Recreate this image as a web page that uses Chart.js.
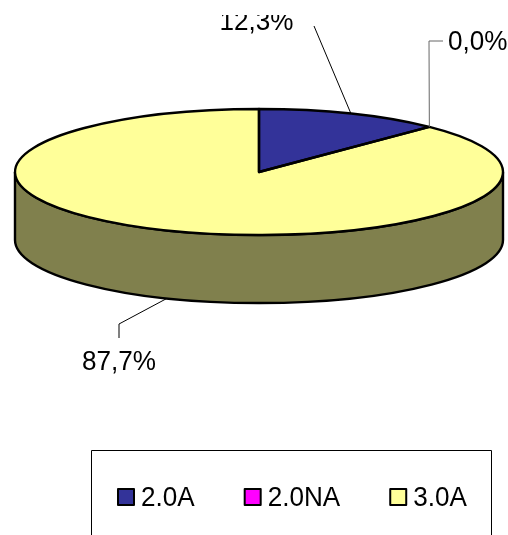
<!DOCTYPE html>
<html>
<head>
<meta charset="utf-8">
<style>
  html, body { margin: 0; padding: 0; background: #fff; overflow: hidden; }
  canvas { display: block; }
</style>
<script src="https://cdn.jsdelivr.net/npm/chart.js@4/dist/chart.umd.min.js"></script>
</head>
<body>
<canvas id="chart-pie" width="508" height="535"></canvas>
<script>
// Data
const categories = ['2.0A', '2.0NA', '3.0A'];
const seriesValues = [12.3, 0.0, 87.7];
const sliceColors = ['#333399', '#FF00FF', '#FFFF99'];
const wallColors = ['#1A1A4D', '#800080', '#80804D'];

// Pie projection
const CENTER_Y = 172;
const RADIUS_Y = 63;
const DEPTH = 68;
// La fuente del original es algo mas alta que ancha
const FONT = '27.2px "Liberation Sans", Arial, sans-serif';
const TEXT_SQUEEZE = 0.96;

const calloutStyles = [
    { textX: 219.5, textY: 30, elbow: [[314, 26]], color: '#000000', clipTop: 15 },
    { textX: 448, textY: 49.5, elbow: [[429, 41], [443, 41]], color: '#666666' },
    { textX: 82, textY: 369.5, elbow: [[119, 324], [119, 338]], color: '#000000' }
];

function formatPercent(v) {
    return v.toFixed(1).replace('.', ',') + '%';
}

function ellipsePath(ctx, arc, offsetY, from, to, ccw) {
    ctx.ellipse(arc.x, CENTER_Y + offsetY, arc.outerRadius, RADIUS_Y, 0, from, to, ccw);
}

function drawText(ctx, text, x, y) {
    ctx.save();
    ctx.translate(x, y);
    ctx.scale(TEXT_SQUEEZE, 1);
    ctx.font = FONT;
    ctx.fillStyle = '#000';
    ctx.textAlign = 'left';
    ctx.textBaseline = 'alphabetic';
    ctx.fillText(text, 0, 0);
    ctx.restore();
}

const pie3d = {
    id: 'pie3d',
    beforeDatasetsDraw(chart) {
        const ctx = chart.ctx;
        const arcs = chart.getDatasetMeta(0).data;

        // Pared lateral: solo la parte frontal es visible
        arcs.forEach((arc, i) => {
            const s = Math.max(arc.startAngle, 0);
            const e = Math.min(arc.endAngle, Math.PI);
            if (e <= s) return;
            ctx.beginPath();
            ellipsePath(ctx, arc, DEPTH, s, e, false);
            ellipsePath(ctx, arc, 0, e, s, true);
            ctx.closePath();
            ctx.fillStyle = wallColors[i];
            ctx.fill();
            ctx.lineWidth = 2.4;
            ctx.strokeStyle = '#000';
            ctx.stroke();
        });

        // Aplastar la tarta
        const a = arcs[0];
        ctx.save();
        ctx.translate(0, CENTER_Y);
        ctx.scale(1, RADIUS_Y / a.outerRadius);
        ctx.translate(0, -a.y);
    },
    afterDatasetsDraw(chart) {
        const ctx = chart.ctx;
        ctx.restore();

        const arcs = chart.getDatasetMeta(0).data;
        ctx.lineWidth = 2.4;
        ctx.strokeStyle = '#000';
        ctx.lineJoin = 'round';
        arcs.forEach(arc => {
            if (arc.endAngle - arc.startAngle <= 0) return;
            ctx.beginPath();
            ctx.moveTo(arc.x, CENTER_Y);
            ellipsePath(ctx, arc, 0, arc.startAngle, arc.endAngle, false);
            ctx.closePath();
            ctx.stroke();
        });

        drawCallouts(chart, arcs);
        drawLegend(ctx);
    }
};

function drawCallouts(chart, arcs) {
    const ctx = chart.ctx;
    arcs.forEach((arc, i) => {
        const style = calloutStyles[i];
        const mid = (arc.startAngle + arc.endAngle) / 2;
        const x = arc.x + arc.outerRadius * Math.cos(mid);
        let y = CENTER_Y + RADIUS_Y * Math.sin(mid);
        if (Math.sin(mid) > 0) y += DEPTH;

        ctx.beginPath();
        ctx.moveTo(x, y);
        style.elbow.forEach(p => ctx.lineTo(p[0], p[1]));
        ctx.lineWidth = 1;
        ctx.strokeStyle = style.color;
        ctx.stroke();

        ctx.save();
        if (style.clipTop) {
            ctx.beginPath();
            ctx.rect(0, style.clipTop, 508, 535);
            ctx.clip();
        }
        drawText(ctx, formatPercent(seriesValues[i]), style.textX, style.textY);
        ctx.restore();
    });
}

function drawLegend(ctx) {
    // Caja, cortada por el borde inferior
    ctx.beginPath();
    ctx.moveTo(91.5, 540);
    ctx.lineTo(91.5, 450.5);
    ctx.lineTo(491.5, 450.5);
    ctx.lineTo(491.5, 540);
    ctx.lineWidth = 1;
    ctx.strokeStyle = '#000';
    ctx.stroke();

    let x = 118;
    categories.forEach((name, i) => {
        ctx.fillStyle = sliceColors[i];
        ctx.fillRect(x, 489, 16, 16);
        ctx.lineWidth = 2;
        ctx.strokeStyle = '#000';
        ctx.strokeRect(x, 489, 16, 16);
        drawText(ctx, name, x + 23, 506);
        ctx.font = FONT;
        x += 23 + ctx.measureText(name).width * TEXT_SQUEEZE + 50;
    });
}

new Chart(document.getElementById('chart-pie'), {
    type: 'pie',
    data: {
        labels: categories,
        datasets: [{
            data: seriesValues,
            backgroundColor: sliceColors,
            borderWidth: 0,
            clip: false
        }]
    },
    options: {
        responsive: false,
        animation: false,
        layout: { padding: { left: 15, right: 5 } },
        plugins: {
            legend: { display: false },
            tooltip: { enabled: false }
        }
    },
    plugins: [pie3d]
});
</script>
</body>
</html>
